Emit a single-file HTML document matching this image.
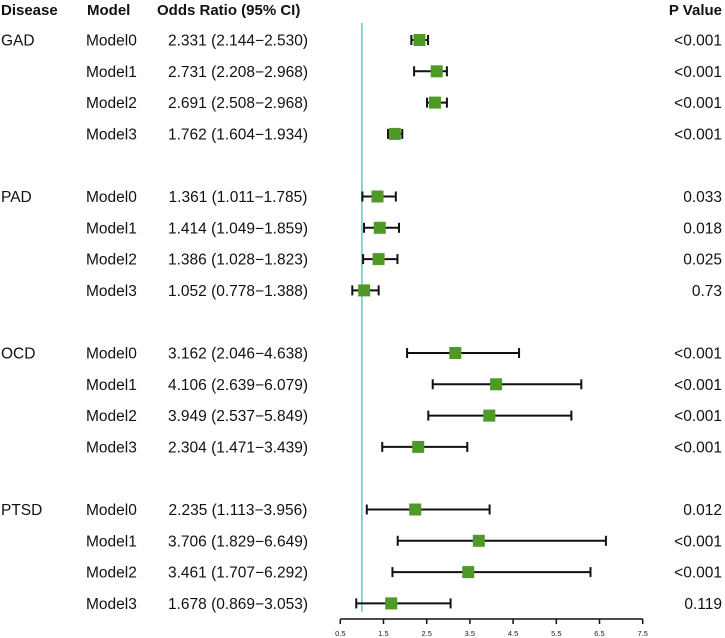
<!DOCTYPE html>
<html><head><meta charset="utf-8"><style>
html,body{margin:0;padding:0;background:#fff}
svg{display:block;font-family:"Liberation Sans",Arial,sans-serif}
</style></head><body>
<svg id="chart" width="725" height="638" viewBox="0 0 725 638" xmlns="http://www.w3.org/2000/svg">
<g font-weight="bold" font-size="15" fill="#111">
<text x="1" y="15">Disease</text>
<text x="87" y="15">Model</text>
<text x="157" y="15">Odds Ratio (95% CI)</text>
<text x="722" y="15" text-anchor="end">P Value</text>
</g>
<g id="rows"></g>
<g id="axis"></g>
</svg>
<script>
const diseases = ["GAD","PAD","OCD","PTSD"];
const models = ["Model0","Model1","Model2","Model3"];
const orValues = [2.331,2.731,2.691,1.762, 1.361,1.414,1.386,1.052, 3.162,4.106,3.949,2.304, 2.235,3.706,3.461,1.678];
const lowerCI = [2.144,2.208,2.508,1.604, 1.011,1.049,1.028,0.778, 2.046,2.639,2.537,1.471, 1.113,1.829,1.707,0.869];
const upperCI = [2.530,2.968,2.968,1.934, 1.785,1.859,1.823,1.388, 4.638,6.079,5.849,3.439, 3.956,6.649,6.292,3.053];
const pValues = ["<0.001","<0.001","<0.001","<0.001","0.033","0.018","0.025","0.73","<0.001","<0.001","<0.001","<0.001","0.012","<0.001","<0.001","0.119"];
const tickValues = [0.5,1.5,2.5,3.5,4.5,5.5,6.5,7.5];
const refValue = 1;

const NS="http://www.w3.org/2000/svg";
const FS=15.5;
function xScale(v){return 340.3+(v-0.5)*43.2;}
function rowY(d,m){return 40+(d*5+m)*31.3;}
function mk(tag,attrs,parent){const e=document.createElementNS(NS,tag);for(const k in attrs)e.setAttribute(k,attrs[k]);parent.appendChild(e);return e;}
const rows=document.getElementById('rows');
const axis=document.getElementById('axis');

const ref=mk('line',{x1:xScale(refValue),x2:xScale(refValue),y1:23,y2:612,stroke:'#6cc9cf','stroke-width':1.6},rows);



diseases.forEach((d,di)=>{
  const dl=mk('text',{x:1,y:rowY(di,0)+5.5,'font-size':FS,fill:'#111'},rows);
  dl.textContent=d;
  
  
  models.forEach((m,mi)=>{
    const i=di*4+mi, y=rowY(di,mi);
    const ml=mk('text',{x:86,y:y+5.5,'font-size':FS,fill:'#111'},rows);
    ml.textContent=m;
    
    
    const ot=mk('text',{x:238,y:y+5.5,'font-size':FS,fill:'#111','text-anchor':'middle'},rows);
    ot.textContent=orValues[i].toFixed(3)+' ('+lowerCI[i].toFixed(3)+'\u2212'+upperCI[i].toFixed(3)+')';
    
    
    const pv=mk('text',{x:722,y:y+5.5,'font-size':FS,fill:'#111','text-anchor':'end'},rows);
    pv.textContent=pValues[i];
    
    
    const g=mk('g',{stroke:'#111','stroke-width':2},rows);
    
    
    const x1=xScale(lowerCI[i]),x2=xScale(upperCI[i]);
    mk('line',{x1:x1,x2:x2,y1:y,y2:y},g);
    mk('line',{x1:x1,x2:x1,y1:y-5,y2:y+5},g);
    mk('line',{x1:x2,x2:x2,y1:y-5,y2:y+5},g);
    const pt=mk('rect',{x:xScale(orValues[i])-6,y:y-6,width:12,height:12,fill:'#4f9a26'},rows);
    
    
  });
});

mk('line',{x1:xScale(tickValues[0]),x2:xScale(tickValues[tickValues.length-1]),y1:619,y2:619,stroke:'#111','stroke-width':1.5},axis);
tickValues.forEach(t=>{
  const tk=mk('line',{x1:xScale(t),x2:xScale(t),y1:619,y2:624,stroke:'#111','stroke-width':1.5},axis);
  
  
  const tl=mk('text',{x:xScale(t),y:636,'font-size':7.5,fill:'#222','text-anchor':'middle'},axis);
  tl.textContent=String(t);
  
  
});
</script>
</body></html>
